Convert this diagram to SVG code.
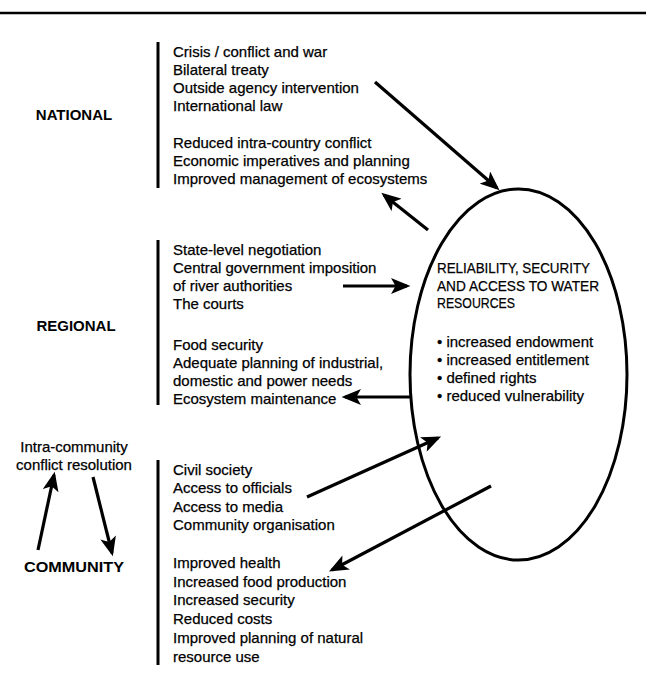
<svg xmlns="http://www.w3.org/2000/svg" width="646" height="682" viewBox="0 0 646 682">
<defs>
<style>
.t{font-family:"Liberation Sans",Arial,sans-serif;font-size:15px;fill:#000;stroke:#000;stroke-width:0.25}
.b{font-family:"Liberation Sans",Arial,sans-serif;font-size:15px;font-weight:bold;fill:#000;text-anchor:middle}
.c{font-family:"Liberation Sans",Arial,sans-serif;font-size:15px;fill:#000;text-anchor:middle;stroke:#000;stroke-width:0.25}
.bar{stroke:#000;stroke-width:3;fill:none}
.ar{stroke:#000;stroke-width:3.2;fill:none;marker-end:url(#ah)}
</style>
<marker id="ah" markerUnits="userSpaceOnUse" markerWidth="20" markerHeight="16" viewBox="0 0 17 14" refX="14" refY="7" orient="auto">
<path d="M0,0 L17,7 L0,14 L4,7 Z" fill="#000"/>
</marker>
</defs>
<rect width="646" height="682" fill="#fff"/>
<line x1="0" y1="13" x2="646" y2="13" stroke="#000" stroke-width="2.5"/>

<g id="national">
<text class="b" x="74" y="120">NATIONAL</text>
<line class="bar" x1="158" y1="42" x2="158" y2="188"/>
<text class="t" x="173" y="57">Crisis / conflict and war</text>
<text class="t" x="173" y="75">Bilateral treaty</text>
<text class="t" x="173" y="93">Outside agency intervention</text>
<text class="t" x="173" y="111">International law</text>
<text class="t" x="173" y="148">Reduced intra-country conflict</text>
<text class="t" x="173" y="166">Economic imperatives and planning</text>
<text class="t" x="173" y="184">Improved management of ecosystems</text>
</g>

<g id="regional">
<text class="b" x="76" y="331">REGIONAL</text>
<line class="bar" x1="158" y1="240" x2="158" y2="405"/>
<text class="t" x="173" y="255">State-level negotiation</text>
<text class="t" x="173" y="273">Central government imposition</text>
<text class="t" x="173" y="291">of river authorities</text>
<text class="t" x="173" y="309">The courts</text>
<text class="t" x="173" y="350">Food security</text>
<text class="t" x="173" y="368">Adequate planning of industrial,</text>
<text class="t" x="173" y="386">domestic and power needs</text>
<text class="t" x="173" y="404">Ecosystem maintenance</text>
</g>

<g id="community">
<text class="c" x="74" y="452">Intra-community</text>
<text class="c" x="74" y="470">conflict resolution</text>
<text class="b" x="74" y="572" textLength="100" lengthAdjust="spacingAndGlyphs">COMMUNITY</text>
<line class="bar" x1="158" y1="460" x2="158" y2="665"/>
<text class="t" x="173" y="475">Civil society</text>
<text class="t" x="173" y="493">Access to officials</text>
<text class="t" x="173" y="512">Access to media</text>
<text class="t" x="173" y="530">Community organisation</text>
<text class="t" x="173" y="568">Improved health</text>
<text class="t" x="173" y="587">Increased food production</text>
<text class="t" x="173" y="605">Increased security</text>
<text class="t" x="173" y="624">Reduced costs</text>
<text class="t" x="173" y="643">Improved planning of natural</text>
<text class="t" x="173" y="662">resource use</text>
</g>

<g id="water">
<ellipse cx="518.5" cy="374.5" rx="108.5" ry="185.5" fill="none" stroke="#000" stroke-width="3"/>
<text class="t" x="437" y="273" textLength="153" lengthAdjust="spacingAndGlyphs">RELIABILITY, SECURITY</text>
<text class="t" x="437" y="291" textLength="162" lengthAdjust="spacingAndGlyphs">AND ACCESS TO WATER</text>
<text class="t" x="437" y="308" textLength="78" lengthAdjust="spacingAndGlyphs">RESOURCES</text>
<text class="t" x="437" y="347">• increased endowment</text>
<text class="t" x="437" y="365">• increased entitlement</text>
<text class="t" x="437" y="383">• defined rights</text>
<text class="t" x="437" y="401">• reduced vulnerability</text>
</g>

<g id="connectors">
<line class="ar" x1="375" y1="82" x2="497" y2="188"/>
<line class="ar" x1="428" y1="230" x2="384" y2="195"/>
<line class="ar" x1="343" y1="286" x2="407" y2="286"/>
<line class="ar" x1="410" y1="397" x2="345" y2="397"/>
<line class="ar" x1="307" y1="497" x2="438" y2="438"/>
<line class="ar" x1="491" y1="486" x2="332" y2="570"/>
<line class="ar" x1="38" y1="550" x2="54" y2="475"/>
<line class="ar" x1="93" y1="477" x2="112" y2="553"/>
</g>
</svg>
